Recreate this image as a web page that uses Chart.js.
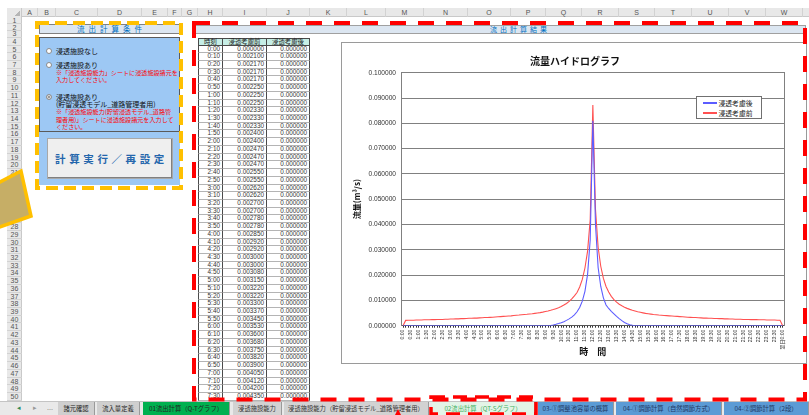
<!DOCTYPE html>
<html><head><meta charset="utf-8">
<script src="https://cdn.jsdelivr.net/npm/chart.js"></script>
<style>
html,body{margin:0;padding:0;}
body{width:809px;height:415px;overflow:hidden;background:#fff;position:relative;font-family:"Noto Sans CJK JP","Noto Sans",sans-serif;}
.a{position:absolute;box-sizing:border-box;white-space:nowrap;}
</style></head><body>
<div id="root"></div>
<div class="a" id="chartBox" style="left:341px;top:42px;width:466px;height:322px;border:1px solid #9a9a9a;background:#fff;">
<canvas id="c" width="464" height="320" style="display:block;width:464px;height:320px;"></canvas>
</div>
<div class="a" id="legend" style="left:696px;top:96px;width:66px;height:23px;border:1px solid #707070;background:#fff;"></div>
<svg class="a" width="809" height="415" style="left:0;top:0;pointer-events:none;overflow:visible">
  <polygon points="-40,203 21,171 31,216 -40,241" fill="#c6ae66" stroke="#FFC000" stroke-width="3.5"/>
  <rect x="37" y="23" width="144" height="165" fill="none" stroke="#FFC000" stroke-width="4" stroke-dasharray="12 6"/>
  <rect x="194" y="23" width="611" height="376.5" fill="none" stroke="#FF0000" stroke-width="4" stroke-dasharray="16 12"/>
  <rect x="431" y="397" width="105" height="17" fill="none" stroke="#FF0000" stroke-width="3.5" stroke-dasharray="14 8"/>
  <polygon points="395,415 398,409 401,415" fill="#ff0000"/>
</svg>
<script>
// ---------------- data ----------------
const timeLabels = ("0:00 0:10 0:20 0:30 0:40 0:50 1:00 1:10 1:20 1:30 1:40 1:50 2:00 2:10 2:20 2:30 2:40 2:50 " +
 "3:00 3:10 3:20 3:30 3:40 3:50 4:00 4:10 4:20 4:30 4:40 4:50 5:00 5:10 5:20 5:30 5:40 5:50 " +
 "6:00 6:10 6:20 6:30 6:40 6:50 7:00 7:10 7:20 7:30 7:40 7:50 8:00 8:10 8:20 8:30 8:40 8:50 " +
 "9:00 9:10 9:20 9:30 9:40 9:50 10:00 10:10 10:20 10:30 10:40 10:50 11:00 11:10 11:20 11:30 11:40 11:50 " +
 "12:00 12:10 12:20 12:30 12:40 12:50 13:00 13:10 13:20 13:30 13:40 13:50 14:00 14:10 14:20 14:30 14:40 14:50 " +
 "15:00 15:10 15:20 15:30 15:40 15:50 16:00 16:10 16:20 16:30 16:40 16:50 17:00 17:10 17:20 17:30 17:40 17:50 " +
 "18:00 18:10 18:20 18:30 18:40 18:50 19:00 19:10 19:20 19:30 19:40 19:50 20:00 20:10 20:20 20:30 20:40 20:50 " +
 "21:00 21:10 21:20 21:30 21:40 21:50 22:00 22:10 22:20 22:30 22:40 22:50 23:00 23:10 23:20 23:30 23:40 23:50 翌日0:00").split(" ");

const seriesNames = ["浸透考慮後", "浸透考慮前"];

// 浸透考慮前 (m3/s)
const flowBefore = [
 0.000000,0.002100,0.002170,0.002170,0.002170,0.002250,0.002250,0.002250,0.002330,0.002330,
 0.002330,0.002400,0.002400,0.002470,0.002470,0.002470,0.002550,0.002550,0.002620,0.002620,
 0.002700,0.002700,0.002780,0.002780,0.002850,0.002920,0.002920,0.003000,0.003000,0.003080,
 0.003150,0.003220,0.003220,0.003300,0.003370,0.003450,0.003530,0.003600,0.003680,0.003750,
 0.003820,0.003900,0.004050,0.004120,0.004200,0.004350,0.004430,0.004500,0.004650,0.004730,
 0.004880,0.005030,0.005180,0.005370,0.005600,0.005820,0.006080,0.006380,0.006730,0.007100,
 0.007570,0.008150,0.008800,0.009600,0.010600,0.011800,0.013100,0.015300,0.018300,0.022800,
 0.029500,0.042000,0.087200,0.046000,0.031000,0.023500,0.018700,0.015500,0.013300,0.011600,
 0.010300,0.009300,0.008500,0.007850,0.007300,0.006850,0.006450,0.006100,0.005800,0.005520,
 0.005300,0.005080,0.004880,0.004730,0.004580,0.004430,0.004350,0.004200,0.004120,0.004050,
 0.003980,0.003900,0.003820,0.003750,0.003680,0.003600,0.003530,0.003450,0.003370,0.003300,
 0.003220,0.003220,0.003150,0.003080,0.003000,0.003000,0.002920,0.002920,0.002850,0.002850,
 0.002780,0.002780,0.002700,0.002700,0.002620,0.002620,0.002550,0.002550,0.002550,0.002470,
 0.002470,0.002470,0.002400,0.002400,0.002400,0.002330,0.002330,0.002330,0.002250,0.002250,
 0.002250,0.002250,0.002170,0.002170,0.000000];

// 浸透考慮後 (m3/s)
const flowAfter = [
 0,0,0,0,0,0,0,0,0,0,
 0,0,0,0,0,0,0,0,0,0,
 0,0,0,0,0,0,0,0,0,0,
 0,0,0,0,0,0,0,0,0,0,
 0,0,0,0,0,0,0,0,0,0,
 0,0,0,0,0,0,0.000100,0.000300,0.000550,0.000850,
 0.001200,0.001600,0.002100,0.002700,0.003400,0.004300,0.005500,0.007200,0.009700,0.013600,
 0.020300,0.034000,0.081000,0.040000,0.023000,0.015500,0.011000,0.008200,0.006800,0.005700,
 0.004700,0.003700,0.002800,0.002000,0.001300,0.000800,0.000400,0.000150,0,0,
 0,0,0,0,0,0,0,0,0,0,
 0,0,0,0,0,0,0,0,0,0,
 0,0,0,0,0,0,0,0,0,0,
 0,0,0,0,0,0,0,0,0,0,
 0,0,0,0,0,0,0,0,0,0,
 0,0,0,0,0];

const colLetters = ["A","B","C","D","E","F","G","H","I","J","K","L","M","N","O","P","Q","R","S","T","U","V","W"];
const tableHeads = ["時刻", "浸透考慮前", "浸透考慮後"];
const sheetTabs = ["諸元確認","流入量定義","01流出計算（Q-Tグラフ）","浸透施設能力","浸透施設能力（貯留浸透モデル_道路管理者用）","02流出計算（QT-Sグラフ）","03-①調整池容量の概算","04-①調節計算（自然調節方式）","04-②調節計算（2段）"];

// ---------------- layout helpers ----------------
const root = document.getElementById('root');
function box(x,y,w,h,css,html){
  const d=document.createElement('div');
  d.className='a';
  d.style.cssText=`left:${x}px;top:${y}px;width:${w}px;height:${h}px;`+(css||'');
  if(html!==undefined) d.innerHTML=html;
  root.appendChild(d); return d;
}
const colEdges=[22,38,56,98,142,168,182,198,223,267,310,347,386,424,468,511,546,582,619,655,692,729,766,803,830];
function rowTop(r){ if(r===1) return 17; if(r===2) return 24.2; if(r===3) return 31.2; return 37.84+(r-4)*7.72; }

// column header
box(7,8,802,9,'background:#e8e8e8;border-bottom:1px solid #c9c9c9;');
box(7,8,15,9,'background:#e8e8e8;border-right:1px solid #c9c9c9;');
box(15,11,5,5,'background:linear-gradient(135deg,transparent 50%,#b5b5b5 50%);');
colLetters.forEach((L,i)=>{
  const x0=colEdges[i], x1=colEdges[i+1];
  box(x0,8,x1-x0,9,'border-right:1px solid #d2d2d2;font:7px/9px "Liberation Sans",sans-serif;color:#555;text-align:center;',L);
});
// row header
box(7,17,15,384,'background:#e8e8e8;border-right:1px solid #c9c9c9;');
for(let r=1;r<=50;r++){
  const t=rowTop(r), b=rowTop(r+1);
  box(7,t,15,b-t,`border-bottom:1px solid #d2d2d2;font:7px/${b-t}px "Liberation Sans",sans-serif;color:#555;text-align:center;`,String(r));
}

// ---------------- left panel ----------------
box(39,24,141,9.5,'background:#dce6f1;border:1px solid #808080;font:7.5px/7.5px "Noto Sans CJK JP";color:#0070c0;text-align:center;letter-spacing:4px;padding-left:4px;','流出計算条件');
box(39,37,141,148,'background:#9dc8f4;');
box(39,37,141,95,'border:1px solid #5a5a5a;');
function radio(cy,sel){
  box(45.5,cy-3,6,6,'border-radius:50%;background:#fff;border:1px solid #8a8a8a;'+(sel?'box-shadow:inset 0 0 0 1.2px #fff,inset 0 0 0 3px #111;':''));
}
function line(cy,txt,css){ box(56,cy-5,124,10,'font:7px/10px "Noto Sans CJK JP";color:#111;'+(css||''),txt); }
radio(50.7,false); line(50.7,'浸透施設なし');
radio(65,false); line(65,'浸透施設あり');
line(72.7,'※「浸透施設能力」シートに浸透施設諸元を','color:#ff0000;font-size:6.1px;');
line(80,'入力してください。','color:#ff0000;font-size:6.1px;');
radio(96.7,true); line(96.7,'浸透施設あり');
line(104.3,'(貯留浸透モデル_道路管理者用)');
line(112,'※「浸透施設能力(貯留浸透モデル_道路管','color:#ff0000;font-size:6.1px;');
line(120,'理者用)」シートに浸透施設諸元を入力して','color:#ff0000;font-size:6.1px;');
line(127.3,'ください。','color:#ff0000;font-size:6.1px;');
box(47,138,126,41,'background:#efefef;border:1px solid #a8a8a8;box-shadow:inset -1px -1px 0 #808080;font:bold 10.5px/39px "Noto Sans CJK JP";color:#2466ac;text-align:center;letter-spacing:3.6px;padding-left:3px;','計算実行／再設定');

// ---------------- right header bar ----------------
box(195,25,611,9,'background:#dce6f1;border:1px solid #a0a0a0;');
box(470,25,100,9,'font:7px/9px "Noto Sans CJK JP";color:#0070c0;text-align:center;letter-spacing:3px;','流出計算結果');

// ---------------- table ----------------
const tCols=[[198,223],[223,267],[267,310]];
{
  const t=rowTop(4), b=rowTop(5);
  tableHeads.forEach((h,j)=>{
    box(tCols[j][0],t,tCols[j][1]-tCols[j][0],b-t,`background:#c6eee6;border:1px solid #4a4a4a;${j?'border-left:none;':''}font:6.4px/${b-t-2}px "Noto Sans CJK JP";color:#222;text-align:center;`,h);
  });
  for(let r=5;r<=50;r++){
    const i=r-5, tt=rowTop(r), bb=rowTop(r+1);
    const vals=[timeLabels[i], flowBefore[i].toFixed(6), flowAfter[i].toFixed(6)];
    vals.forEach((v,j)=>{
      box(tCols[j][0],tt,tCols[j][1]-tCols[j][0],bb-tt,`background:#fff;border-bottom:1px solid #b4b4b4;border-right:1px solid #4a4a4a;${j===0?'border-left:1px solid #4a4a4a;':''}font:6.4px/${bb-tt-1}px "Liberation Sans",sans-serif;color:#333;text-align:right;padding-right:2px;`,v);
    });
  }
}

// ---------------- sheet tabs ----------------
box(0,401,809,14,'background:#e9e9e9;border-top:1px solid #c4c4c4;');
box(17,402,8,12,'font:7px/12px sans-serif;color:#2e8b57;','◂');
box(33,402,8,12,'font:7px/12px sans-serif;color:#999;','▸');
box(47,402,12,12,'font:7px/12px sans-serif;color:#666;','...');
const tabPos=[[58,95],[97,140],[143,230],[233,282],[284,429],[432,535],[538,614],[616,722],[724,809]];
const tabBg=['#cfcfcf','#cfcfcf','#00b050','#d2d2d2','#d2d2d2','#e3f4e7','#5b9bd5','#5b9bd5','#5b9bd5'];
const tabFg=['#222','#222','#222','#333','#333','#3fb060','#1f3864','#1f3864','#1f3864'];
sheetTabs.forEach((s,i)=>{
  const [x0,x1]=tabPos[i];
  box(x0,402,x1-x0,13,`background:${tabBg[i]};border-right:1px solid #9a9a9a;font:6.3px/13px "Noto Sans CJK JP";color:${tabFg[i]};text-align:center;overflow:hidden;`,s);
});

// ---------------- legend (HTML, from series names) ----------------
const legendColors=['#5c5cff','#ff5050'];
const lg=document.getElementById('legend');
seriesNames.forEach((n,i)=>{
  const y=i===0?6.3:16.3;
  const ln=document.createElement('div'); ln.className='a';
  ln.style.cssText=`left:6px;top:${y-1}px;width:14px;height:2px;background:${legendColors[i]};`;
  lg.appendChild(ln);
  const tx=document.createElement('div'); tx.className='a';
  tx.style.cssText=`left:21.5px;top:${y-5}px;height:10px;font:6.8px/10px "Noto Sans CJK JP";color:#222;`;
  tx.textContent=n; lg.appendChild(tx);
});

// ---------------- chart ----------------
Chart.defaults.font.family='"Noto Sans CJK JP","Liberation Sans",sans-serif';
new Chart(document.getElementById('c'),{
  type:'line',
  data:{labels:timeLabels,datasets:[
    {label:seriesNames[0],data:flowAfter,borderColor:legendColors[0],borderWidth:1.1,pointRadius:0,tension:0,fill:false},
    {label:seriesNames[1],data:flowBefore,borderColor:legendColors[1],borderWidth:1.1,pointRadius:0,tension:0,fill:false}
  ]},
  options:{
    responsive:false,animation:false,devicePixelRatio:1,
    layout:{padding:{left:24,right:22,top:0,bottom:0}},
    plugins:{
      legend:{display:false},tooltip:{enabled:false},
      title:{display:true,text:'流量ハイドログラフ',color:'#111',font:{size:10,weight:'bold'},padding:{top:12.7,bottom:5}}
    },
    scales:{
      x:{offset:true,
        grid:{display:true,drawOnChartArea:false,drawTicks:true,tickLength:2,color:'#333',offset:false},
        border:{color:'#555'},
        ticks:{autoSkip:false,minRotation:90,maxRotation:90,padding:2,color:'#333',font:{family:'"Liberation Sans","Noto Sans CJK JP"',size:5},
          callback:function(v,i){return i%3===0?timeLabels[i]:'';}},
        title:{display:true,text:'時　間',color:'#111',font:{size:9,weight:'bold'},padding:{top:0,bottom:5.9}},
        afterFit:function(s){s.height=37.3;}
      },
      y:{min:0,max:0.1,
        grid:{color:'#808080',drawTicks:false},
        border:{color:'#808080'},
        ticks:{stepSize:0.01,padding:5.7,color:'#333',font:{family:'"Liberation Sans"',size:6.6},callback:function(v){return v.toFixed(6);}},
        title:{display:true,text:'流量(m³/s)',color:'#111',font:{size:8,weight:'bold'},padding:{top:-13.8,bottom:0}},
        afterFit:function(s){s.width=35.7;}
      },
      y2:{position:'right',min:0,max:0.1,
        grid:{display:false},ticks:{display:false},border:{display:true,color:'#808080'},
        afterFit:function(s){s.width=0;}
      }
    }
  }
});
</script>
</body></html>
